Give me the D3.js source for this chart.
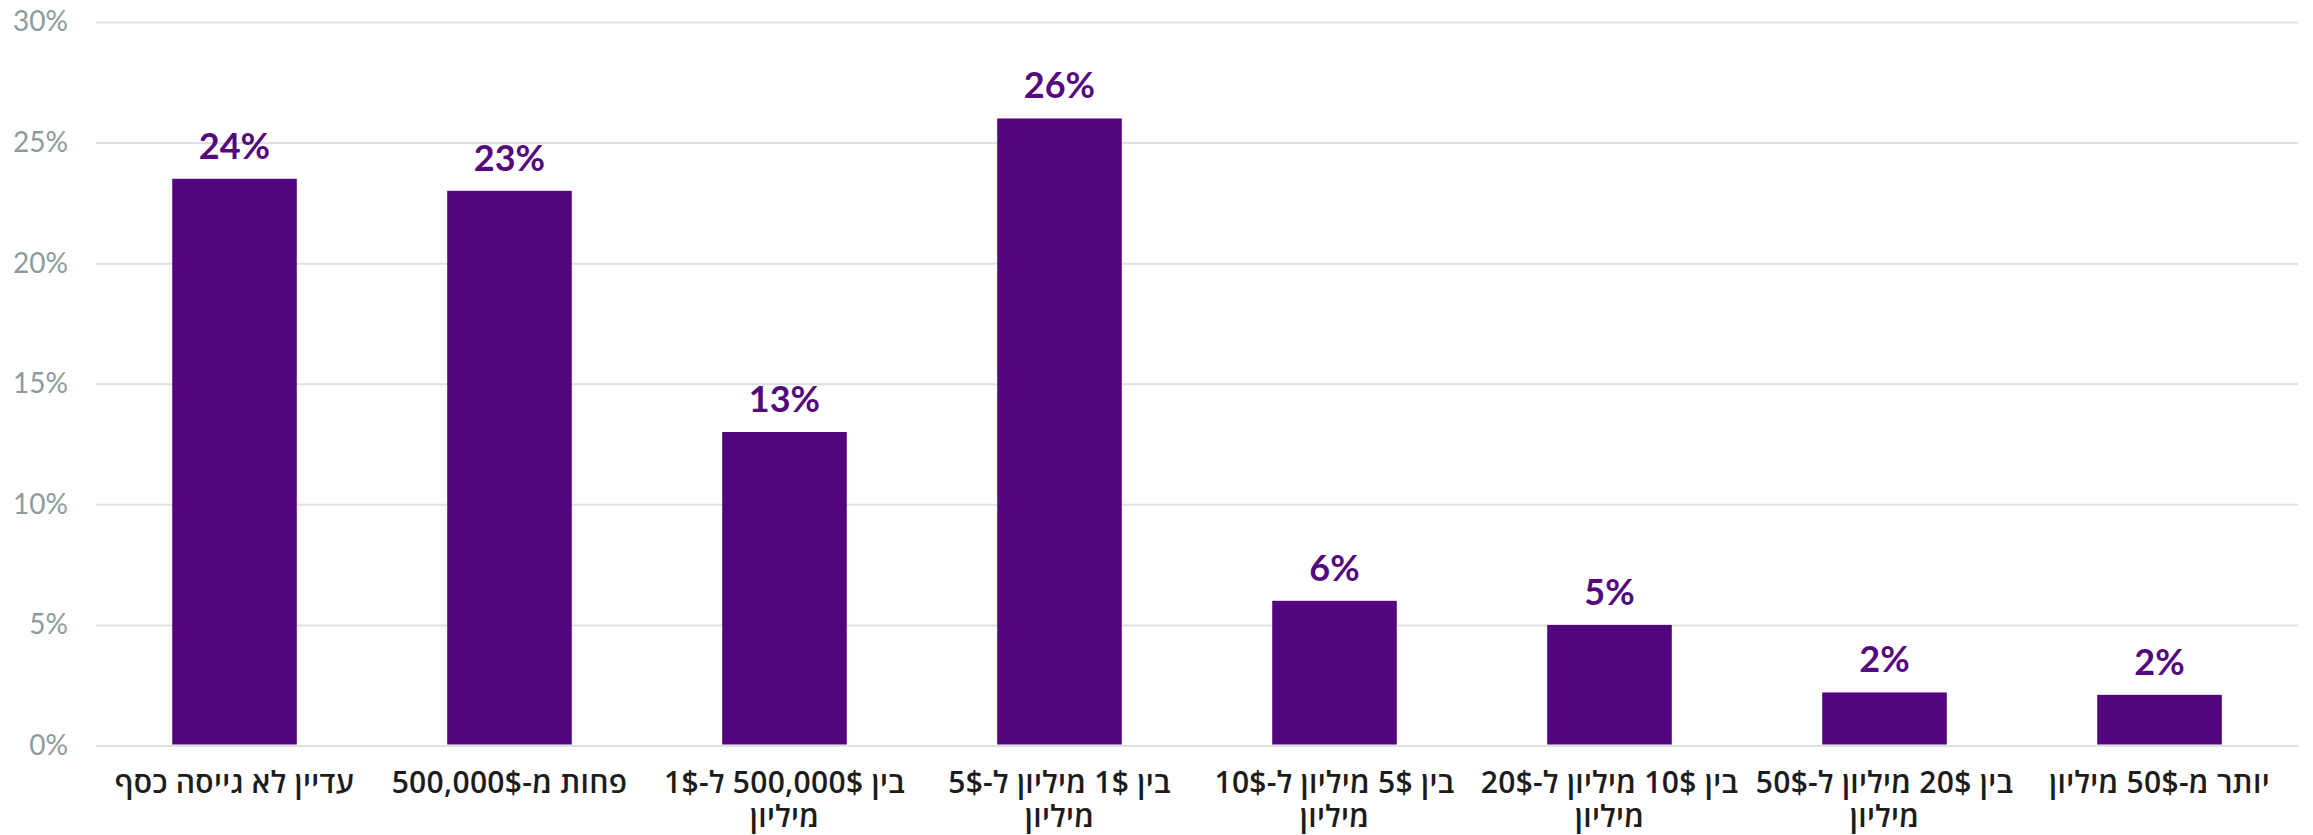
<!DOCTYPE html>
<html>
<head>
<meta charset="utf-8">
<script src="https://cdn.jsdelivr.net/npm/d3@7"></script>
<style>
  html, body { margin: 0; padding: 0; background: #ffffff; }
  svg { display: block; }
</style>
</head>
<body>
<svg id="chart" width="2313" height="835"></svg>
<script>
// ---- data ----
const categories = [
  "עדיין לא גייסה כסף",
  "פחות מ-500,000$",
  "בין 500,000$ ל-1$\nמיליון",
  "בין 1$ מיליון ל-5$\nמיליון",
  "בין 5$ מיליון ל-10$\nמיליון",
  "בין 10$ מיליון ל-20$\nמיליון",
  "בין 20$ מיליון ל-50$\nמיליון",
  "יותר מ-50$ מיליון"
];
const values = [23.5, 23, 13, 26, 6, 5, 2.2, 2.1];
const valueLabels = ["24%", "23%", "13%", "26%", "6%", "5%", "2%", "2%"];
const yTicks = [0, 5, 10, 15, 20, 25, 30];

// ---- layout ----
const plotLeft = 97, plotRight = 2297;
const yTop = 22, yBottom = 745.5;
const barColor = "#52057f";

const svg = d3.select("#chart");

const x = d3.scaleBand()
  .domain(categories)
  .range([plotLeft, plotRight])
  .paddingInner(0.547)
  .paddingOuter(0.2735);

const y = d3.scaleLinear()
  .domain([0, 30])
  .range([yBottom, yTop]);

// gridlines + y labels
const yAxis = d3.axisLeft(y)
  .tickValues(yTicks)
  .tickFormat(d => d + "%")
  .tickSize(-(plotRight - plotLeft + 2))
  .tickPadding(28);

const gy = svg.append("g")
  .attr("transform", `translate(${plotLeft - 1},0)`)
  .call(yAxis);
gy.select(".domain").remove();
gy.selectAll(".tick line")
  .attr("stroke", "#dde1e1")
  .attr("stroke-width", 2);
gy.selectAll(".tick text")
  .attr("fill", "#8d9c9b")
  .style("font-family", "Lato, 'Open Sans', sans-serif")
  .style("font-size", "28px")
  .style("font-weight", 400);

// bars
svg.append("g").selectAll("rect")
  .data(values)
  .join("rect")
  .attr("x", (d, i) => x(categories[i]))
  .attr("width", x.bandwidth())
  .attr("y", d => y(d))
  .attr("height", d => y(0) - y(d) - 1)
  .attr("fill", barColor);

// value labels
svg.append("g").selectAll("text")
  .data(values)
  .join("text")
  .attr("x", (d, i) => x(categories[i]) + x.bandwidth() / 2)
  .attr("y", d => y(d) - 20)
  .attr("text-anchor", "middle")
  .attr("fill", "#55077f")
  .style("font-family", "Lato, 'Open Sans', sans-serif")
  .style("font-size", "36px")
  .style("font-weight", 700)
  .text((d, i) => valueLabels[i]);

// x labels (Hebrew, RTL), one text element per line
const xg = svg.append("g");
categories.forEach(cat => {
  const cx = x(cat) + x.bandwidth() / 2;
  cat.split("\n").forEach((ln, k) => {
    xg.append("text")
      .attr("x", cx)
      .attr("y", 793 + k * 34)
      .attr("text-anchor", "middle")
      .attr("direction", "rtl")
      .attr("fill", "#1c1c1c")
      .style("font-family", "'Open Sans', 'Liberation Sans', 'DejaVu Sans', sans-serif")
      .style("font-size", "30px")
      .style("letter-spacing", "0.3px")
      .style("font-weight", 600)
      .text(ln);
  });
});
</script>
</body>
</html>
